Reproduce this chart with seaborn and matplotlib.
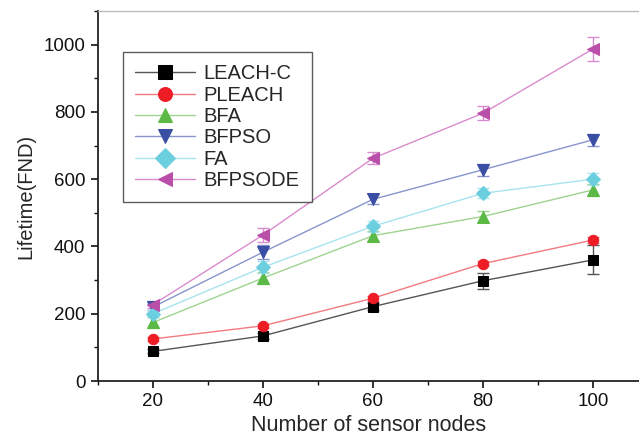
import matplotlib
matplotlib.use("Agg")
import matplotlib.pyplot as plt
import seaborn as sns
import pandas as pd
from matplotlib.ticker import MultipleLocator

sns.set_style("ticks")
plt.rcParams['font.family'] = ['Liberation Sans', 'DejaVu Sans']

nodes = [20, 40, 60, 80, 100]
leach_c = [88, 134, 221, 298, 360]
pleach = [125, 164, 246, 349, 419]
bfa = [174, 306, 432, 489, 568]
bfpso = [220, 383, 540, 628, 717]
fa = [200, 338, 460, 558, 600]
bfpsode = [227, 434, 662, 796, 987]

err_leach_c = [6, 8, 10, 24, 43]
err_pleach = [5, 6, 8, 8, 8]
err_bfa = [16, 18, 15, 15, 17]
err_bfpso = [10, 20, 15, 18, 18]
err_fa = [10, 18, 17, 15, 17]
err_bfpsode = [10, 20, 18, 21, 36]

names = ["LEACH-C", "PLEACH", "BFA", "BFPSO", "FA", "BFPSODE"]
values = [leach_c, pleach, bfa, bfpso, fa, bfpsode]
errors = [err_leach_c, err_pleach, err_bfa, err_bfpso, err_fa, err_bfpsode]
marker_colors = ["#000000", "#ee1c25", "#5cb946", "#3a4fa3", "#6ccfe0", "#b94fa8"]
line_colors = ["#555555", "#f37a80", "#9fd38f", "#8795cc", "#a8e3ee", "#d98bcd"]
markers = ["s", "o", "^", "v", "D", "<"]
msizes = [6.5, 7.5, 8, 8, 7, 8]

fig = plt.figure(figsize=(6.39, 4.38), dpi=100)
ax = fig.add_axes([98/639, 57/438, 541/639, 370/438])

for name, v, e, mc, lc, m, ms in zip(names, values, errors, marker_colors, line_colors, markers, msizes):
    df = pd.DataFrame({"x": nodes, "y": v})
    ax.errorbar(nodes, v, yerr=e, fmt='none', ecolor=lc, elinewidth=1.0, capsize=4, capthick=1.0, zorder=2)
    sns.lineplot(data=df, x="x", y="y", ax=ax, color=lc, linewidth=1.0, marker=m,
                 markersize=ms, markerfacecolor=mc, markeredgecolor=mc, label=name, zorder=3)

ax.set_xlim(10, 108.4)
ax.set_ylim(0, 1100)
ax.set_xticks([20, 40, 60, 80, 100])
ax.set_yticks([0, 200, 400, 600, 800, 1000])
ax.xaxis.set_minor_locator(MultipleLocator(10))
ax.yaxis.set_minor_locator(MultipleLocator(100))
ax.tick_params(axis='both', which='major', length=5, width=1.2, labelsize=13.5, colors='#111111', pad=4)
ax.tick_params(axis='both', which='minor', length=3, width=1.0, colors='#111111')
ax.set_xlabel("Number of sensor nodes", fontsize=15.5, labelpad=3)
ax.set_ylabel("Lifetime(FND)", fontsize=14.5, labelpad=6)

for s in ["left", "bottom"]:
    ax.spines[s].set_color("#222222")
    ax.spines[s].set_linewidth(1.3)
ax.spines["top"].set_visible(True)
ax.spines["top"].set_color("#bbbbbb")
ax.spines["top"].set_linewidth(1.0)
ax.spines["right"].set_visible(False)

leg = ax.legend(loc="upper left", bbox_to_anchor=(0.046, 0.889), fontsize=14.5,
                frameon=True, fancybox=False, handlelength=3.0, handletextpad=0.4,
                labelspacing=0.12, borderpad=0.6, borderaxespad=0)
leg.get_frame().set_edgecolor("#333333")
leg.get_frame().set_linewidth(1.0)
for h in leg.legend_handles:
    h.set_markersize(10)

fig.savefig("out.png", dpi=100)
